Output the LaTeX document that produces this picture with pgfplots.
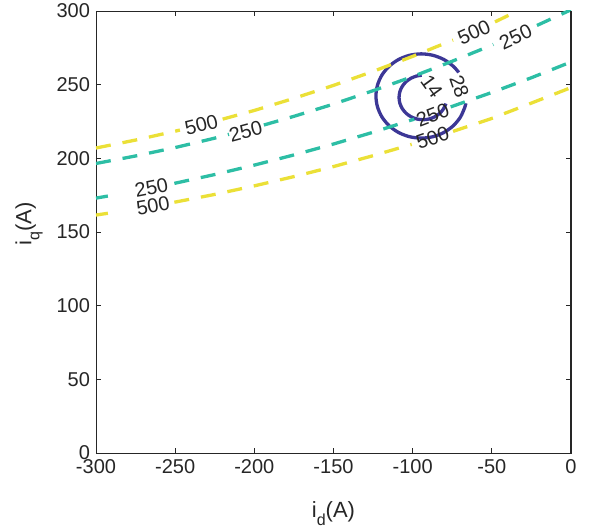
\documentclass[border=0pt]{standalone}
\usepackage{fontspec}
\setmainfont{Liberation Sans}
\usepackage{pgfplots}
\pgfplotsset{compat=1.18}
\definecolor{mblue}{RGB}{60,55,150}
\definecolor{mteal}{RGB}{45,190,165}
\definecolor{myel}{RGB}{235,224,55}
\definecolor{axgray}{RGB}{38,38,38}
\begin{document}
\begin{tikzpicture}[lab/.style={font=\fontsize{20}{23}\selectfont, text=axgray, inner sep=0pt}]
\begin{axis}[name=ax, at={(0,0)}, anchor=south west, scale only axis,
  width=475pt, height=442pt,
  xmin=-300, xmax=0, ymin=0, ymax=300,
  xtick={-300,-250,-200,-150,-100,-50,0},
  xticklabels={-300,-250,-200,-150,-100,-50,0},
  ytick={0,50,100,150,200,250,300},
  yticklabels={0,50,100,150,200,250,300},
  axis line style={draw=axgray, line width=0.8pt},
  tick style={draw=axgray, line width=0.8pt},
  major tick length=5pt,
  tick label style={font=\fontsize{20}{23}\selectfont, text=axgray},
  xticklabel shift=3.5pt, yticklabel shift=2.5pt,
  xlabel={i\raisebox{-8pt}{\fontsize{16}{16}\selectfont d}(A)},
  ylabel={i\raisebox{-8pt}{\fontsize{16}{16}\selectfont q}(A)},
  xlabel style={at={(axis description cs:0.5,-0.147)}, anchor=base, font=\fontsize{22}{26}\selectfont, text=axgray},
  ylabel style={at={(axis description cs:-0.1358,0.518)}, anchor=base, font=\fontsize{22}{26}\selectfont, text=axgray},
  clip=true]
% contour 28
\addplot[mblue, line width=3.3pt, smooth, no markers] coordinates {
(-70.89,258.29)(-74.38,262.52)(-80.3,267.07)(-87.2,269.92)(-94.6,270.9)(-102.0,269.92)(-108.9,267.07)(-114.82,262.52)(-119.37,256.6)(-122.22,249.7)(-123.2,242.3)(-122.22,234.9)(-119.37,228.0)(-114.82,222.08)(-108.9,217.53)(-102.0,214.68)(-94.6,213.7)(-87.2,214.68)(-80.3,217.53)(-74.38,222.08)(-69.83,228.0)(-66.98,234.9)(-66.43,237.33)};
% contour 14
\addplot[mblue, line width=3.3pt, smooth, no markers] coordinates {
(-94.29,256.38)(-97.41,255.89)(-101.05,254.38)(-104.18,251.98)(-106.58,248.85)(-108.09,245.21)(-108.6,241.3)(-108.09,237.39)(-106.58,233.75)(-104.18,230.62)(-101.05,228.22)(-97.41,226.71)(-93.5,226.2)(-89.59,226.71)(-85.95,228.22)(-82.82,230.62)(-80.42,233.75)(-78.98,237.14)};
% lower yellow 500
\addplot[myel, line width=3.3pt, dash pattern=on 15pt off 12pt, no markers] coordinates {(-300,161.5)(-292.5,162.7)};
\addplot[myel, line width=3.3pt, dash pattern=on 15pt off 12pt, no markers] coordinates {(-250.5,170.2)(-225,175.5)(-200,181.3)(-175,187.6)(-150,194.4)(-125,201.8)(-100.6,209.5)};
\addplot[myel, line width=3.3pt, dash pattern=on 15pt off 12pt, no markers] coordinates {(-74.5,218.3)(-50,227.1)(-25,237.5)(0,248)};
% lower teal 250
\addplot[mteal, line width=3.3pt, dash pattern=on 15pt off 12pt, no markers] coordinates {(-300,173)(-292.5,174.4)};
\addplot[mteal, line width=3.3pt, dash pattern=on 15pt off 12pt, no markers] coordinates {(-250.5,183.0)(-225,189.0)(-200,195.4)(-175,202.3)(-150,209.7)(-125,217.7)(-99,226.6)};
\addplot[mteal, line width=3.3pt, dash pattern=on 15pt off 12pt, no markers] coordinates {(-76,234.9)(-50,244.7)(-25,254.7)(0,265.4)};
% upper teal 250
\addplot[mteal, line width=3.3pt, dash pattern=on 15pt off 12pt, no markers] coordinates {(-300,196.5)(-275,201.6)(-250,207.3)(-225,213.7)(-216,216.3)};
\addplot[mteal, line width=3.3pt, dash pattern=on 15pt off 12pt, no markers] coordinates {(-194,222.6)(-175,228.5)(-150,236.8)(-125,245.9)(-100,255.5)(-75,265.9)(-50,276.8)(-49,277.3)};
\addplot[mteal, line width=3.3pt, dash pattern=on 15pt off 12pt, no markers] coordinates {(-21.5,290.2)(0,300.8)};
% upper yellow 500
\addplot[myel, line width=3.3pt, dash pattern=on 15pt off 12pt, no markers] coordinates {(-300,207)(-275,212.4)(-250,218.4)(-247,219.2)};
\addplot[myel, line width=3.3pt, dash pattern=on 15pt off 12pt, no markers] coordinates {(-220,226.6)(-200,232.5)(-175,240.7)(-150,249.5)(-125,259.0)(-100,269.2)(-75,280.1)(-74.5,280.3)};
\addplot[myel, line width=3.3pt, dash pattern=on 15pt off 12pt, no markers] coordinates {(-48,292.6)(-33,300.4)};
% labels
\node[lab, rotate=14] at (axis cs:-233.5,222.8) {500};
\node[lab, rotate=15] at (axis cs:-205.5,218.5) {250};
\node[lab, rotate=11] at (axis cs:-265,180.1) {250};
\node[lab, rotate=10] at (axis cs:-264,167.6) {500};
\node[lab, rotate=24] at (axis cs:-61.3,285.5) {500};
\node[lab, rotate=25] at (axis cs:-35,282.5) {250};
\node[lab, rotate=21] at (axis cs:-87.4,229.5) {250};
\node[lab, rotate=19] at (axis cs:-87.4,214) {500};
\node[lab, rotate=-54] at (axis cs:-88,249.1) {14};
\node[lab, rotate=-71] at (axis cs:-70.5,248.6) {28};
\draw[axgray, line width=2.4pt] (rel axis cs:1,0) -- (rel axis cs:1,1);
\end{axis}
\pgfresetboundingbox
\path ([shift={(-96pt,-78pt)}]ax.south west) rectangle ([shift={(18pt,11pt)}]ax.north east);
\end{tikzpicture}
\end{document}
